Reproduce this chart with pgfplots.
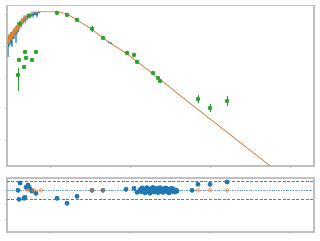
\documentclass[border=0pt]{standalone}
\usepackage{pgfplots}
\pgfplotsset{compat=1.18}
\definecolor{tblue}{RGB}{31,119,180}
\definecolor{tgreen}{RGB}{44,160,44}
\definecolor{torange}{RGB}{255,127,14}
\definecolor{modelc}{RGB}{205,130,60}
\definecolor{spine}{RGB}{192,192,192}
\definecolor{lblue}{RGB}{110,165,215}
\definecolor{dblue}{RGB}{60,135,200}
\pgfplotsset{
  base/.style={
    scale only axis, width=307pt,
    xmin=-0.5375, xmax=3.3,
    xtick={0,1,2,3},
    minor xtick={-0.523,-0.398,-0.301,-0.222,-0.155,-0.097,-0.046,
      0.301,0.477,0.602,0.699,0.778,0.845,0.903,0.954,
      1.301,1.477,1.602,1.699,1.778,1.845,1.903,1.954,
      2.301,2.477,2.602,2.699,2.778,2.845,2.903,2.954},
    xticklabels={}, yticklabels={},
    xtick pos=left, ytick pos=left,
    tick align=outside,
    major tick length=2pt, minor tick length=1.3pt,
    tick style={draw=spine, line width=0.8pt},
    axis line style={draw=spine, line width=1.8pt},
    clip=true,
  }
}
\begin{document}
\begin{tikzpicture}
\path[use as bounding box] (0,0) rectangle (320pt,240pt);
% ---------------- top panel ----------------
\begin{axis}[base, at={(7pt,74pt)}, anchor=south west, height=160.5pt,
  ymin=-4.83, ymax=0.30, ytick={-4,-3,-2,-1,0}]
% observed spectrum (blue)
\addplot[tblue, line width=1pt] coordinates {
(-0.525,-1.344) (-0.51875,-0.678) (-0.5125,-1.008) (-0.50625,-0.662) (-0.5,-0.896)
(-0.49375,-0.56) (-0.4875,-0.96) (-0.48125,-0.592) (-0.475,-1.024) (-0.46875,-0.518)
(-0.4625,-0.752) (-0.45625,-0.438) (-0.45,-0.768) (-0.44375,-0.454) (-0.4375,-0.624)
(-0.43125,-0.374) (-0.425,-0.896) (-0.41875,-0.336) (-0.4125,-0.608) (-0.40625,-0.336)
(-0.4,-0.544) (-0.39375,-0.262) (-0.3875,-0.432) (-0.375,-0.224) (-0.3625,-0.374)
(-0.35,-0.144) (-0.3375,-0.262) (-0.325,-0.064) (-0.3125,-0.224) (-0.3,-0.032)
(-0.2875,-0.144) (-0.275,0) (-0.2625,-0.08) (-0.25,0.032) (-0.2375,-0.048)
(-0.225,0.064) (-0.2125,-0.054) (-0.2,0.086) (-0.1875,0.003) (-0.175,0.08)
(-0.1625,-0.042) (-0.15,0.09) (-0.125,0.064)
};
\addplot[tblue, line width=0.8pt] coordinates {
(0.72,-0.84) (0.74,-0.90) (0.76,-0.88) (0.78,-0.95)
};
% model (orange), noisy part
\addplot[modelc!60!torange, line width=1.1pt] coordinates {
(-0.525,-0.93) (-0.51875,-0.64) (-0.5125,-0.90) (-0.50625,-0.62) (-0.5,-0.88)
(-0.49375,-0.58) (-0.4875,-0.80) (-0.48125,-0.55) (-0.475,-0.80) (-0.46875,-0.51)
(-0.4625,-0.70) (-0.45625,-0.46) (-0.45,-0.66) (-0.44375,-0.44) (-0.4375,-0.61)
(-0.43125,-0.40) (-0.425,-0.56) (-0.41875,-0.36) (-0.4125,-0.50) (-0.40625,-0.33)
(-0.4,-0.46) (-0.3875,-0.28) (-0.375,-0.36) (-0.3625,-0.21) (-0.35,-0.26)
(-0.3375,-0.13) (-0.325,-0.18) (-0.3125,-0.06) (-0.3,-0.10) (-0.275,-0.016)
(-0.25,-0.016) (-0.225,0.032)
};
% model (orange), smooth part
\addplot[modelc, line width=0.8pt] coordinates {
(-0.225,0.032) (-0.2,0.064) (-0.175,0.08) (-0.15,0.09) (-0.125,0.096)
(-0.0625,0.102) (0,0.102) (0.0625,0.096) (0.125,0.08) (0.1875,0.048) (0.2125,0.032)
(0.25,-0.032) (0.3375,-0.16) (0.525,-0.464) (0.6625,-0.736) (0.75,-0.896)
(0.9625,-1.248) (1.0875,-1.488) (1.2875,-1.888) (1.375,-2.064) (1.5,-2.314)
(1.625,-2.576) (1.875,-3.075) (2.125,-3.574) (2.375,-4.074) (2.625,-4.573) (2.775,-4.874)
};
% photometry (green)
\addplot[only marks, mark=*, mark size=2pt, tgreen, mark options={draw=tgreen, fill=tgreen},
  error bars/.cd, y dir=both, y explicit, error bar style={tgreen, line width=0.8pt}, error mark=none]
coordinates {
(-0.4,-1.92) += (0,0.224) -= (0,0.512)
(-0.3875,-1.44) +- (0,0.04)
(-0.325,-1.664) +- (0,0.04)
(-0.3125,-1.184) +- (0,0.04)
(-0.3,-1.376) +- (0,0.04)
(-0.225,-1.44) +- (0,0.04)
(-0.175,-1.184) +- (0,0.04)
(-0.375,-0.288) +- (0,0.04)
(-0.2625,-0.032) +- (0,0.04)
(0.0875,0.064) +- (0,0.04)
(0.2125,0.0) +- (0,0.04)
(0.3375,-0.16) +- (0,0.04)
(0.525,-0.448) +- (0,0.096)
(0.6625,-0.736) +- (0,0.04)
(0.9625,-1.216) +- (0,0.04)
(1.05,-1.28) +- (0,0.04)
(1.0875,-1.504) +- (0,0.04)
(1.2875,-1.856) +- (0,0.04)
(1.35,-2.016) +- (0,0.04)
(1.375,-2.112) +- (0,0.04)
(1.85,-2.688) +- (0,0.128)
(2.0,-2.976) +- (0,0.128)
(2.2125,-2.752) +- (0,0.16)
};
\end{axis}
% ---------------- residual panel ----------------
\begin{axis}[base, at={(7pt,8.3pt)}, anchor=south west, height=54pt,
  ymin=-14.3, ymax=4.35, ytick={-10,-5,0}]
\addplot[dblue, line width=0.9pt, dash pattern=on 3pt off 1.6pt] coordinates {(-0.6,3) (3.4,3)};
\addplot[dblue, line width=0.9pt, dash pattern=on 3pt off 1.6pt] coordinates {(-0.6,-3) (3.4,-3)};
\addplot[lblue, line width=0.8pt, dash pattern=on 2pt off 1pt on 0.6pt off 1pt] coordinates {(-0.6,0) (3.4,0)};
% spectral residuals (blue)
\addplot[only marks, mark=*, mark size=2.2pt, tblue, mark options={draw=tblue, fill=tblue}] coordinates {
(-0.4,0) (-0.375,2.52) (-0.3875,-3.10) (-0.325,-2.76) (-0.3125,-2.41) (-0.3,1.03)
(-0.275,1.83) (-0.2625,1.03) (-0.25,0.45) (-0.225,-0.24) (-0.175,-1.03)
(0.0875,-2.76) (0.2125,-4.48) (0.3375,-2.07) (0.525,0) (0.6625,0)
(0.95,0.34) (1.05,0.69) (1.0875,-0.69) (1.775,0) (1.85,2.07) (2.0,2.07) (2.2125,2.86)
(1.125,0.2) (1.1375,-0.5) (1.15,0.8) (1.1625,-0.3) (1.175,0.5) (1.1875,-0.9) (1.2,0.3)
(1.2125,0.9) (1.225,-0.4) (1.2375,0.1) (1.25,-1.0) (1.2625,0.6) (1.275,-0.2) (1.2875,1.0)
(1.3,-0.6) (1.3125,0.3) (1.325,-0.3) (1.3375,0.7) (1.35,-0.8) (1.3625,0.2) (1.375,0.9)
(1.3875,-0.4) (1.4,0.4) (1.4125,-0.7) (1.425,0.6) (1.4375,-0.1) (1.45,0.8) (1.4625,-0.5)
(1.475,0.3) (1.4875,-0.9) (1.5,0.5) (1.5125,-0.2) (1.525,0.7) (1.5375,-0.4) (1.55,0.2)
(1.5625,-0.6) (1.575,0.1) (1.5875,-0.3)
};
% photometric residuals (orange)
\addplot[only marks, mark=*, mark size=2.1pt, torange, mark options={draw=torange, fill=torange, opacity=0.45}] coordinates {
(-0.275,0) (-0.2,0) (-0.1125,0) (0.525,0) (0.6625,0) (1.85,0) (2.0,0) (2.2125,0)
};
\end{axis}
\end{tikzpicture}
\end{document}
